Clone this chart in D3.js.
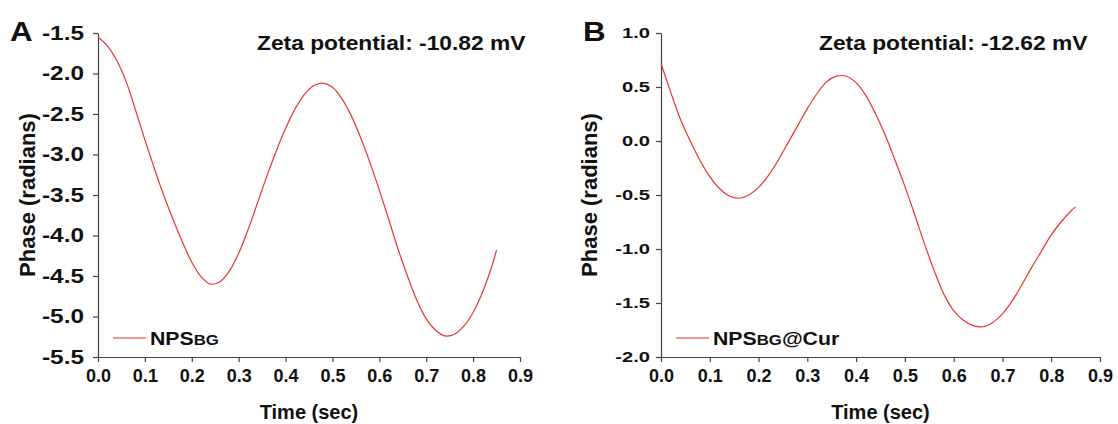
<!DOCTYPE html>
<html>
<head>
<meta charset="utf-8">
<script src="https://cdn.jsdelivr.net/npm/d3@7"></script>
<style>
    body { margin: 0; background: #fff; }
    svg { display: block; font-family: "Liberation Sans", Arial, sans-serif; font-weight: bold; }
</style>
</head>
<body>
<script>
const timeA  = [0, 0.02, 0.04, 0.06, 0.08, 0.1, 0.12, 0.14, 0.16, 0.18, 0.2, 0.22, 0.24, 0.26, 0.28, 0.3, 0.32, 0.34, 0.36, 0.38, 0.4, 0.42, 0.44, 0.46, 0.48, 0.5, 0.52, 0.54, 0.56, 0.58, 0.6, 0.62, 0.64, 0.66, 0.68, 0.7, 0.72, 0.74, 0.76, 0.78, 0.8, 0.82, 0.84, 0.85]
const phaseA = [-1.55, -1.66, -1.84, -2.1, -2.45, -2.82, -3.17, -3.5, -3.8, -4.08, -4.33, -4.51, -4.6, -4.57, -4.44, -4.22, -3.93, -3.6, -3.27, -2.96, -2.68, -2.44, -2.26, -2.15, -2.12, -2.17, -2.31, -2.52, -2.79, -3.1, -3.44, -3.8, -4.17, -4.5, -4.8, -5.03, -5.17, -5.24, -5.22, -5.12, -4.95, -4.7, -4.38, -4.18]

const timeB  = [0, 0.02, 0.04, 0.06, 0.08, 0.1, 0.12, 0.14, 0.16, 0.18, 0.2, 0.22, 0.24, 0.26, 0.28, 0.3, 0.32, 0.34, 0.36, 0.38, 0.4, 0.42, 0.44, 0.46, 0.48, 0.5, 0.52, 0.54, 0.56, 0.58, 0.6, 0.62, 0.64, 0.66, 0.68, 0.7, 0.72, 0.74, 0.76, 0.78, 0.8, 0.82, 0.84, 0.85]
const phaseB = [0.72, 0.45, 0.2, 0.0, -0.18, -0.33, -0.44, -0.51, -0.53, -0.5, -0.43, -0.32, -0.18, -0.02, 0.14, 0.3, 0.44, 0.55, 0.6, 0.6, 0.54, 0.42, 0.25, 0.05, -0.18, -0.42, -0.68, -0.95, -1.2, -1.42, -1.57, -1.66, -1.71, -1.72, -1.68, -1.6, -1.48, -1.33, -1.17, -1.02, -0.87, -0.75, -0.65, -0.61]

const xTicks  = [0, 0.1, 0.2, 0.3, 0.4, 0.5, 0.6, 0.7, 0.8, 0.9]
const yTicksA = [-1.5, -2.0, -2.5, -3.0, -3.5, -4.0, -4.5, -5.0, -5.5]
const yTicksB = [1.0, 0.5, 0.0, -0.5, -1.0, -1.5, -2.0]

const width = 1118, height = 424
const red = "#e8352d"

const svg = d3.select("body").append("svg")
    .attr("width", width)
    .attr("height", height)

// text squeezed wider like the original figure
function wideText(g, x, y, size, stretch, str) {
    return g.append("text")
        .attr("x", x / stretch)
        .attr("y", y)
        .attr("transform", `scale(${stretch},1)`)
        .attr("font-size", size)
        .attr("fill", "#111")
        .text(str)
}

function panel(opts) {
    const x = d3.scaleLinear().domain([0, 0.9]).range([opts.left, opts.right])
    const y = d3.scaleLinear().domain(opts.yDomain).range([opts.top, opts.bottom])
    const g = svg.append("g")

    const xAxis = g.append("g")
        .attr("transform", `translate(0,${opts.bottom})`)
        .call(d3.axisBottom(x).tickValues(xTicks).tickFormat(d => d.toFixed(1)).tickSize(5).tickSizeOuter(0))
    xAxis.selectAll("text")
        .attr("y", 12)
        .attr("font-size", 18)
        .attr("font-family", "Liberation Sans, Arial, sans-serif")
        .attr("font-weight", "bold")
        .attr("fill", "#111")

    const yAxis = g.append("g")
        .attr("transform", `translate(${opts.left},0)`)
        .call(d3.axisLeft(y).tickValues(opts.yTicks).tickFormat(d => d.toFixed(1)).tickSize(5).tickSizeOuter(0))
    yAxis.selectAll("text")
        .attr("x", -opts.labelGap / opts.yStretch)
        .attr("transform", `scale(${opts.yStretch},1)`)
        .attr("font-size", opts.yFont)
        .attr("font-family", "Liberation Sans, Arial, sans-serif")
        .attr("font-weight", "bold")
        .attr("fill", "#111")

    g.selectAll(".domain, .tick line")
        .attr("stroke", "#444")
        .attr("stroke-width", 1.2)

    const line = d3.line()
        .x((d, i) => x(opts.time[i]))
        .y(d => y(d))
        .curve(d3.curveCatmullRom)

    g.append("path")
        .datum(opts.phase)
        .attr("d", line)
        .attr("fill", "none")
        .attr("stroke", red)
        .attr("stroke-width", 1.2)

    // panel letter and zeta potential
    wideText(g, opts.letterX, 41, 28, 1.12, opts.letter)
    wideText(g, opts.zetaX, 50, 20, 1.14, opts.zeta)

    // axis titles
    g.append("text")
        .attr("x", (opts.left + opts.right) / 2)
        .attr("y", 419)
        .attr("text-anchor", "middle")
        .attr("font-size", 20)
        .attr("fill", "#111")
        .text("Time (sec)")

    g.append("text")
        .attr("transform", `translate(${opts.titleX},${(opts.top + opts.bottom) / 2}) rotate(-90)`)
        .attr("text-anchor", "middle")
        .attr("font-size", 22)
        .attr("fill", "#111")
        .text("Phase (radians)")

    // legend
    g.append("line")
        .attr("x1", opts.left + 15)
        .attr("x2", opts.left + 48)
        .attr("y1", 338)
        .attr("y2", 338)
        .attr("stroke", red)
        .attr("stroke-width", 1.2)

    const leg = wideText(g, opts.left + 52, 345, 19, 1.12, "NPS")
    leg.append("tspan").attr("font-size", 15).text("BG")
    if (opts.suffix) leg.append("tspan").text(opts.suffix)
}

panel({
    letter: "A", letterX: 10, zeta: "Zeta potential: -10.82 mV", zetaX: 257,
    left: 98, right: 520, top: 33, bottom: 357, titleX: 35,
    yDomain: [-1.5, -5.5], yTicks: yTicksA, yFont: 20, yStretch: 1.22, labelGap: 14,
    time: timeA, phase: phaseA
})

panel({
    letter: "B", letterX: 583, zeta: "Zeta potential: -12.62 mV", zetaX: 819,
    left: 661, right: 1100, top: 33, bottom: 357, titleX: 597,
    yDomain: [1.0, -2.0], yTicks: yTicksB, yFont: 15.5, yStretch: 1.3, labelGap: 11,
    time: timeB, phase: phaseB, suffix: "@Cur"
})
</script>
</body>
</html>
